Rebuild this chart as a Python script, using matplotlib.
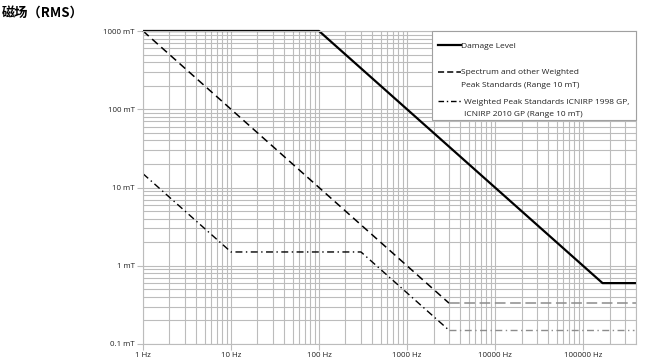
import matplotlib
matplotlib.use("Agg")
import matplotlib.pyplot as plt
from matplotlib.lines import Line2D
from matplotlib.patches import Rectangle
from matplotlib.ticker import FixedLocator, LogLocator, NullFormatter

plt.rcParams['font.family'] = ['Open Sans', 'DejaVu Sans']

# Data
damage_f = [1, 100, 166667, 400000]
damage_b = [1000, 1000, 0.6, 0.6]
spectrum_f = [1, 3000]
spectrum_b = [1000, 0.333]
spectrum_tail_f = [3000, 400000]
spectrum_tail_b = [0.333, 0.333]
wp_f = [1, 10, 300, 3000]
wp_b = [15, 1.5, 1.5, 0.15]
wp_tail_f = [3000, 380000]
wp_tail_b = [0.15, 0.15]

x_ticks = [1, 10, 100, 1000, 10000, 100000]
x_labels = ["1 Hz", "10 Hz", "100 Hz", "1000 Hz", "10000 Hz", "100000 Hz"]
y_ticks = [0.1, 1, 10, 100, 1000]
y_labels = ["0.1 mT", "1 mT", "10 mT", "100 mT", "1000 mT"]

legend_labels = [["Damage Level"],
                 ["Spectrum and other Weighted", "Peak Standards (Range 10 mT)"],
                 ["Weighted Peak Standards ICNIRP 1998 GP,", "ICNIRP 2010 GP (Range 10 mT)"]]

W, H = 666, 362
fig = plt.figure(figsize=(W/100, H/100), dpi=100)
ax = fig.add_axes([143/W, 1-344/H, (636-143)/W, (344-31)/H])
ax.set_xscale('log')
ax.set_yscale('log')
ax.set_xlim(1, 400000)
ax.set_ylim(0.1, 1000)

grid_c = '#bcbcbc'
ax.grid(True, which='major', color=grid_c, linewidth=0.8)
ax.grid(True, which='minor', color=grid_c, linewidth=0.8)
ax.set_axisbelow(True)

ax.plot(damage_f, damage_b, color='black', linewidth=1.6, solid_capstyle='butt', clip_on=False)
ax.plot(spectrum_f, spectrum_b, color='black', linewidth=1.1, linestyle=(0, (5, 3)), clip_on=False)
ax.plot(spectrum_tail_f, spectrum_tail_b, color='#8c8c8c', linewidth=1.1, linestyle=(0, (7, 3)))
ax.plot(wp_f, wp_b, color='black', linewidth=1.0, linestyle=(0, (5, 2.5, 1, 2.5)))
ax.plot(wp_tail_f, wp_tail_b, color='#8c8c8c', linewidth=1.0, linestyle=(0, (5, 2.5, 1, 2.5)))

ax.xaxis.set_major_locator(FixedLocator(x_ticks))
ax.set_xticklabels(x_labels)
ax.yaxis.set_major_locator(FixedLocator(y_ticks))
ax.set_yticklabels(y_labels)
ax.xaxis.set_minor_locator(LogLocator(base=10, subs=range(2, 10), numticks=20))
ax.yaxis.set_minor_locator(LogLocator(base=10, subs=range(2, 10), numticks=20))
ax.xaxis.set_minor_formatter(NullFormatter())
ax.yaxis.set_minor_formatter(NullFormatter())
ax.tick_params(which='major', length=4, width=0.8, color=grid_c, labelsize=5.7, pad=2, labelcolor='#222222')
ax.tick_params(which='minor', length=0)
for s in ax.spines.values():
    s.set_color(grid_c)
    s.set_linewidth(0.8)

# Manual legend (pixel layout)
def fx(x):
    return x / W

def fy(y):
    return 1 - y / H

fig.patches.append(Rectangle((fx(432), fy(120)), fx(636) - fx(432), fy(31) - fy(120),
                             transform=fig.transFigure, facecolor='white',
                             edgecolor='#a0a0a0', linewidth=0.8, zorder=5))
handle_styles = [dict(color='black', linewidth=1.6, linestyle='-'),
                 dict(color='black', linewidth=1.1, linestyle=(0, (4, 2))),
                 dict(color='black', linewidth=1.0, linestyle=(0, (4, 2, 1, 2)))]
entry_y = [45, 72, 101]
text_x = [461, 461, 464]
line_gap = 12.5
for lines, st, yy, tx in zip(legend_labels, handle_styles, entry_y, text_x):
    fig.lines.append(Line2D([fx(438), fx(461)], [fy(yy), fy(yy)],
                            transform=fig.transFigure, zorder=6, **st))
    for i, line in enumerate(lines):
        fig.text(fx(tx), fy(yy + 1 + i * line_gap), line, fontsize=6.0, color='#222222',
                 va='center', ha='left', zorder=6)

fig.text(0.002, 1-13/H, "磁场（RMS）", fontsize=9.5, fontweight='bold',
         family=['Noto Sans CJK SC', 'DejaVu Sans'], va='center', ha='left')

fig.savefig("out.png", dpi=100)
